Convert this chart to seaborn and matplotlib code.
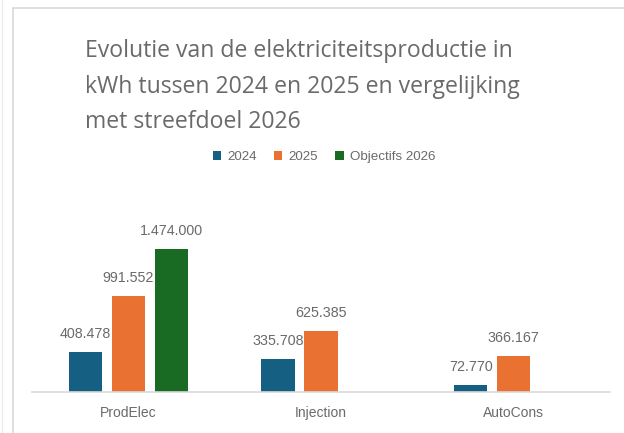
import matplotlib
matplotlib.use("Agg")
import matplotlib.pyplot as plt
from matplotlib.lines import Line2D
from matplotlib.patches import Patch
import seaborn as sns
import pandas as pd

categories = ["ProdElec", "Injection", "AutoCons"]
series_names = ["2024", "2025", "Objectifs 2026"]
values_2024 = [408478, 335708, 72770]
values_2025 = [991552, 625385, 366167]
values_2026 = [1474000, None, None]
colors = ["#156082", "#E97132", "#196B24"]
title_lines = ["Evolutie van de elektriciteitsproductie in",
               "kWh tussen 2024 en 2025 en vergelijking",
               "met streefdoel 2026"]

rows = []
for s, vals in zip(series_names, [values_2024, values_2025, values_2026]):
    for c, v in zip(categories, vals):
        if v is not None:
            rows.append({"cat": c, "serie": s, "val": v})
df = pd.DataFrame(rows)

sns.set_style("white")
plt.rcParams["font.family"] = ["Liberation Sans", "DejaVu Sans"]

fig = plt.figure(figsize=(6.24, 4.33), dpi=100)
ax = fig.add_axes([32 / 624, 41 / 433, 578 / 624, 155.2 / 433])

sns.barplot(data=df, x="cat", y="val", hue="serie", order=categories,
            hue_order=series_names, palette=colors, saturation=1, width=0.67, gap=0.23,
            linewidth=0, errorbar=None, legend=False, ax=ax)

ax.set_xlim(-0.5, 2.5)
ax.set_ylim(0, 1.6e6)
ax.set_xlabel("")
ax.set_ylabel("")
ax.set_yticks([])
for sp in ["top", "right", "left"]:
    ax.spines[sp].set_visible(False)
ax.spines["bottom"].set_color("#d9d9d9")
ax.spines["bottom"].set_linewidth(1.2)
ax.tick_params(axis="x", length=0, pad=10, labelsize=10, labelcolor="#6a6a6a")

for cont in ax.containers:
    labels = [f"{b.get_height():,.0f}".replace(",", ".") for b in cont]
    ax.bar_label(cont, labels=labels, padding=8, fontsize=10.3, color="#6a6a6a",
                 clip_on=False)

baselines = [57, 93, 128]
for line, yb in zip(title_lines, baselines):
    fig.text(85 / 624, 1 - yb / 433, line, ha="left", va="baseline", fontsize=16.6,
             color="#6a6a6a", family=["Open Sans", "DejaVu Sans"])

handles = [Patch(facecolor=c, edgecolor="none") for c in colors]
fig.legend(handles, series_names, loc="center", bbox_to_anchor=(324 / 624, 1 - 157 / 433),
           ncol=3, frameon=False, fontsize=9.6, labelcolor="#6a6a6a",
           handlelength=0.62, handleheight=0.62, handletextpad=0.45, columnspacing=1.3)

# chart frame
fig.add_artist(Line2D([13 / 624, 13 / 624], [0, 1 - 8 / 433], transform=fig.transFigure,
                      color="#d9d9d9", lw=1.2))
fig.add_artist(Line2D([13 / 624, 1], [1 - 8 / 433, 1 - 8 / 433], transform=fig.transFigure,
                      color="#d9d9d9", lw=1.2))
fig.add_artist(Line2D([2 / 624, 2 / 624], [0, 1], transform=fig.transFigure,
                      color="#ececec", lw=1.0))

fig.savefig("out.png", dpi=100)
